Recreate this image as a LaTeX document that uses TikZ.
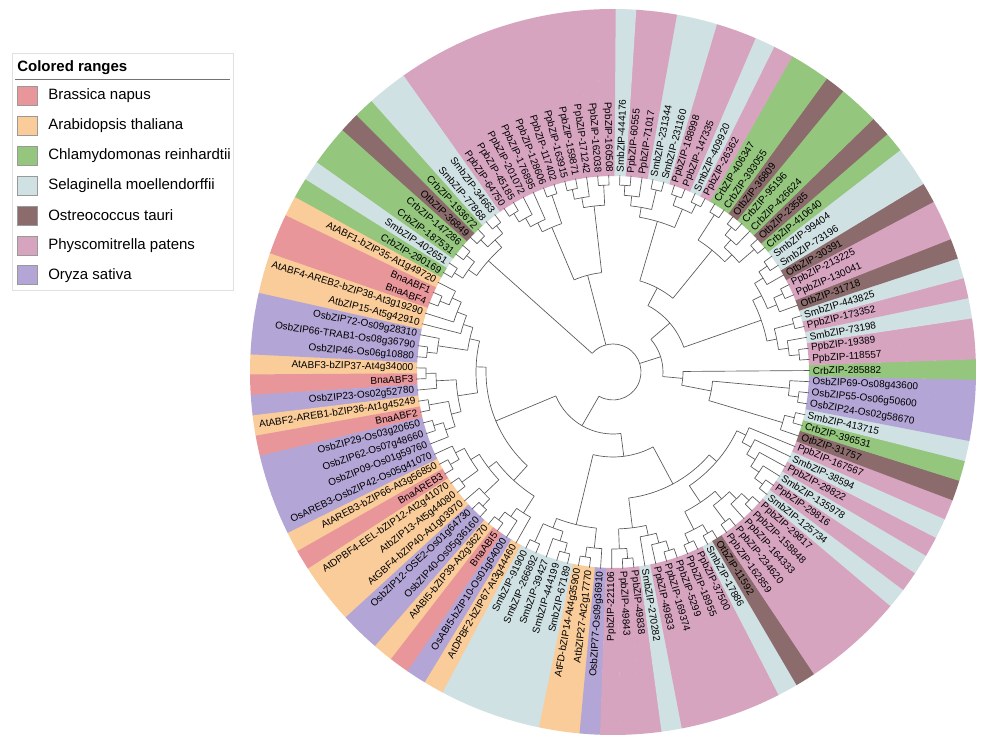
\documentclass[tikz,border=0pt]{standalone}
\usepackage{fontspec}
\setmainfont{Liberation Sans}
\definecolor{cbn}{RGB}{232,150,153}
\definecolor{cat}{RGB}{249,204,153}
\definecolor{ccr}{RGB}{148,198,126}
\definecolor{csm}{RGB}{208,225,228}
\definecolor{cot}{RGB}{139,107,107}
\definecolor{cpp}{RGB}{215,164,192}
\definecolor{cos}{RGB}{179,166,214}
\def\cladestep{10}
\def\offs{178.8}
\def\Rin{196}
\def\Rout{363}
\makeatletter
\newcommand\nset[3]{\expandafter\xdef\csname tn@#1@#2\endcsname{#3}}
\newcommand\nget[2]{\csname tn@#1@#2\endcsname}
\newcommand\clade[3][]{%
  \gdef\cl@first{}%
  \gdef\cl@h{0}%
  \foreach \ch in {#3}{%
    \ifx\cl@first\@empty\xdef\cl@first{\ch}\fi
    \xdef\cl@last{\ch}%
    \edef\cl@ch{\nget{h}{\ch}}%
    \pgfmathsetmacro\cl@t{max(\cl@h,\cl@ch)}%
    \xdef\cl@h{\cl@t}%
  }%
  \pgfmathsetmacro\cl@hh{\cl@h+1}%
  \nset{h}{#2}{\cl@hh}%
  \def\cl@arg{#1}%
  \ifx\cl@arg\@empty
    \pgfmathsetmacro\cl@r{max(197-\cladestep*\cl@hh,40)}%
  \else
    \def\cl@r{#1}%
  \fi
  \nset{r}{#2}{\cl@r}%
  \edef\cl@aA{\nget{a}{\cl@first}}%
  \edef\cl@aB{\nget{a}{\cl@last}}%
  \pgfmathsetmacro\cl@aM{(\cl@aA+\cl@aB)/2}%
  \nset{a}{#2}{\cl@aM}%
  \draw[branch] (\cl@aA:\cl@r) arc[start angle=\cl@aA, end angle=\cl@aB, radius=\cl@r];
  \foreach \ch in {#3}{%
    \edef\cl@ca{\nget{a}{\ch}}%
    \edef\cl@cr{\nget{r}{\ch}}%
    \draw[branch] (\cl@ca:\cl@r) -- (\cl@ca:\cl@cr);
  }%
}
\makeatother
\begin{document}
\begin{tikzpicture}[x=0.75pt,y=0.75pt,
  branch/.style={draw=black!65, line width=0.5pt},
  lbl/.style={font=\fontsize{7.5}{8}\selectfont, inner sep=0pt, text=black},
  legtxt/.style={font=\fontsize{11.25}{13}\selectfont, anchor=west, inner sep=0pt},
  legbox/.style={draw=black!40, line width=0.6pt},
]
\useasboundingbox (0,0) rectangle (1000,748);
\fill[white] (0,0) rectangle (1000,748);
\begin{scope}[shift={(613,376)}]
% leaf angles
\foreach \i in {1,...,111}{%
  \pgfmathsetmacro\la{\i<104 ? \offs+(\i-1)*3.2432432 : \offs+(\i-112)*3.2432432}%
  \nset{a}{L\i}{\la}\nset{r}{L\i}{197}\nset{h}{L\i}{0}%
}
% colored ranges and labels
\foreach \i/\cc/\t in {
1/at/AtABF3-bZIP37-At4g34000,
2/bn/BnaABF3,
3/os/OsbZIP23-Os02g52780,
4/at/AtABF2-AREB1-bZIP36-At1g45249,
5/bn/BnaABF2,
6/os/OsbZIP29-Os03g20650,
7/os/OsbZIP62-Os07g48660,
8/os/OsbZIP09-Os01g59760,
9/os/OsAREB3-OsbZIP42-Os05g41070,
10/at/AtAREB3-bZIP66-At3g56850,
11/bn/BnaAREB3,
12/at/AtDPBF4-EEL-bZIP12-At2g41070,
13/at/AtbZIP13-At5g44080,
14/at/AtGBF4-bZIP40-At1g03970,
15/os/OsbZIP12-OSE2-Os01g64730,
16/os/OsbZIP40-Os05g36160,
17/at/AtABI5-bZIP39-At2g36270,
18/bn/BnaABI5,
19/os/OsABI5-bZIP10-Os01g64000,
20/at/AtDPBF2-bZIP67-At3g44460,
21/sm/SmbZIP-91900,
22/sm/SmbZIP-266892,
23/sm/SmbZIP-39427,
24/sm/SmbZIP-444199,
25/sm/SmbZIP-67189,
26/at/AtFD-bZIP14-At4g35900,
27/at/AtbZIP27-At2g17770,
28/os/OsbZIP77-Os09g36910,
29/pp/PpbZIP-221106,
30/pp/PpbZIP-49843,
31/pp/PpbZIP-49838,
32/sm/SmbZIP-270282,
33/pp/PpbZIP-49833,
34/pp/PpbZIP-169374,
35/pp/PpbZIP-5299,
36/pp/PpbZIP-18955,
37/pp/PpbZIP-37500,
38/sm/SmbZIP-17886,
39/ot/OtbZIP-11592,
40/pp/PpbZIP-162859,
41/pp/PpbZIP-234620,
42/pp/PpbZIP-164333,
43/pp/PpbZIP-158848,
44/pp/PpbZIP-29817,
45/sm/SmbZIP-125734,
46/pp/PpbZIP-29816,
47/sm/SmbZIP-135978,
48/pp/PpbZIP-29822,
49/sm/SmbZIP-38594,
50/pp/PpbZIP-167567,
51/ot/OtbZIP-31757,
52/cr/CrbZIP-396531,
53/sm/SmbZIP-413715,
54/os/OsbZIP24-Os02g58670,
55/os/OsbZIP55-Os06g50600,
56/os/OsbZIP69-Os08g43600,
57/cr/CrbZIP-285882,
58/pp/PpbZIP-118557,
59/pp/PpbZIP-19389,
60/sm/SmbZIP-73198,
61/pp/PpbZIP-173352,
62/sm/SmbZIP-443825,
63/ot/OtbZIP-31718,
64/pp/PpbZIP-130041,
65/pp/PpbZIP-213225,
66/ot/OtbZIP-30391,
67/sm/SmbZIP-73196,
68/sm/SmbZIP-99404,
69/cr/CrbZIP-410640,
70/ot/OtbZIP-23585,
71/cr/CrbZIP-426624,
72/cr/CrbZIP-95196,
73/ot/OtbZIP-36809,
74/cr/CrbZIP-393055,
75/cr/CrbZIP-406347,
76/pp/PpbZIP-26362,
77/sm/SmbZIP-409920,
78/pp/PpbZIP-147335,
79/pp/PpbZIP-188998,
80/sm/SmbZIP-231160,
81/sm/SmbZIP-231344,
82/pp/PpbZIP-71017,
83/pp/PpbZIP-60555,
84/sm/SmbZIP-444176,
85/pp/PpbZIP-160508,
86/pp/PpbZIP-162038,
87/pp/PpbZIP-171242,
88/pp/PpbZIP-159871,
89/pp/PpbZIP-163915,
90/pp/PpbZIP-117402,
91/pp/PpbZIP-128606,
92/pp/PpbZIP-176895,
93/pp/PpbZIP-201072,
94/pp/PpbZIP-45185,
95/pp/PpbZIP-64750,
96/sm/SmbZIP-34663,
97/sm/SmbZIP-77868,
98/cr/CrbZIP-193672,
99/ot/OtbZIP-36849,
100/cr/CrbZIP-147286,
101/cr/CrbZIP-187531,
102/sm/SmbZIP-402651,
103/cr/CrbZIP-290169,
104/at/AtABF1-bZIP35-At1g49720,
105/bn/BnaABF1,
106/bn/BnaABF4,
107/at/AtABF4-AREB2-bZIP38-At3g19290,
108/at/AtbZIP15-At5g42910,
109/os/OsbZIP72-Os09g28310,
110/os/OsbZIP66-TRAB1-Os08g36790,
111/os/OsbZIP46-Os06g10880}{%
  \edef\la{\nget{a}{L\i}}%
  \pgfmathsetmacro\wa{\la-1.66}%
  \pgfmathsetmacro\wb{\la+1.66}%
  \edef\wc{c\cc}%
  \fill[fill=\wc] (\wa:\Rin) arc[start angle=\wa,end angle=\wb,radius=\Rin] -- (\wb:\Rout) arc[start angle=\wb,end angle=\wa,radius=\Rout] -- cycle;
  \pgfmathtruncatemacro\side{(\la>270 && \la<450) ? 1 : 0}%
  \ifnum\side=1
    \node[lbl,anchor=west,rotate=\la] (t\i) at (\la:199.5) {\t};
  \else
    \pgfmathsetmacro\lb{\la-180}%
    \node[lbl,anchor=east,rotate=\lb] (t\i) at (\la:199.5) {\t};
  \fi
}
% ---- tree ----
% ABF group
\clade{a1}{L105,L106}
\clade{a2}{L104,a1}
\clade{a3}{a2,L107}
\clade{a4}{a3,L108}
\clade{a5}{L110,L111}
\clade{a6}{L109,a5}
\clade{a7}{a4,a6}
\clade{a8}{L1,L2}
\clade{a9}{a8,L3}
\clade{a10}{L4,L5}
\clade{a11}{L6,L7}
\clade{a12}{a11,L8}
\clade{a13}{a10,a12}
\clade{a14}{a9,a13}
\clade{a15}{a7,a14}
\clade{a16}{L10,L11}
\clade{a17}{L9,a16}
\clade{a18}{L12,L13}
\clade{a19}{a17,a18}
\clade{a20}{L15,L16}
\clade{a21}{L14,a20}
\clade{a22}{a19,a21}
\clade{a23}{L17,L18}
\clade{a24}{a23,L19}
\clade{a25}{a24,L20}
\clade{a26}{a22,a25}
\clade{ABF}{a15,a26}
% bottom
\clade{b1}{L21,L22}
\clade{b2}{L24,L25}
\clade{b3}{L23,b2}
\clade{b4}{b1,b3}
\clade{b5}{L26,L27}
\clade{b6}{b5,L28}
\clade{BOT}{b4,b6}
% moss group
\clade{p1}{L30,L31}
\clade{p2}{L29,p1}
\clade{p3}{L34,L35}
\clade{p4}{L33,p3}
\clade{p5}{L32,p4}
\clade{p6}{p2,p5}
\clade{p7}{L36,L37}
\clade{p8}{L38,L39}
\clade{p9}{p7,p8}
\clade{p10}{L40,L41}
\clade{p11}{L43,L44}
\clade{p12}{L42,p11}
\clade{p13}{p10,p12}
\clade{p14}{p9,p13}
\clade{p15}{L45,L46}
\clade{p16}{p15,L47}
\clade{p17}{p16,L48}
\clade{p18}{p17,L49}
\clade{p19}{p18,L50}
\clade{p20}{p14,p19}
\clade{PP}{p6,p20}
% right
\clade{r1}{L52,L53}
\clade{r2}{L51,r1}
\clade{r3}{L54,L55}
\clade{r4}{r3,L56}
\clade[100]{r5}{r2,r4}
\clade[70]{r6}{r5,L57}
\clade{s1}{L58,L59}
\clade{s2}{s1,L60}
\clade{s3}{L61,L62}
\clade{s4}{s2,s3}
\clade{s5}{L64,L65}
\clade{s6}{L63,s5}
\clade{s7}{L67,L68}
\clade{s8}{L66,s7}
\clade{s9}{s6,s8}
\clade{S}{s4,s9}
\clade{g1}{L69,L70}
\clade{g2}{L72,L73}
\clade{g3}{L71,g2}
\clade{g4}{L74,L75}
\clade{g5}{g1,g3}
\clade{G}{g5,g4}
\clade{m1}{L76,L77}
\clade{m2}{L78,L79}
\clade{m3}{m1,m2}
\clade{m4}{L80,L81}
\clade{m5}{L83,L84}
\clade{m6}{L82,m5}
\clade{m7}{m4,m6}
\clade{M}{m3,m7}
% top
\clade{t1}{L85,L86}
\clade{t2}{L88,L89}
\clade{t3}{L87,t2}
\clade{t4}{t1,t3}
\clade{t5}{L90,L91}
\clade{t6}{L94,L95}
\clade{t7}{L93,t6}
\clade{t8}{L92,t7}
\clade{t9}{t5,t8}
\clade[100]{T}{t4,t9}
\clade{u1}{L96,L97}
\clade{u2}{L98,L99}
\clade{u3}{u1,u2}
\clade{u4}{L100,L101}
\clade{u5}{L102,L103}
\clade{u6}{u4,u5}
\clade{U}{u3,u6}
% deep
\clade[85]{A1}{BOT,PP}
\clade[62]{A}{ABF,A1}
\clade[95]{B1}{G,M}
\clade[75]{B2}{S,B1}
\clade[50]{B}{r6,B2}
\clade[28]{ROOT}{A,B,T,U}
\end{scope}
% ---- legend ----
\draw[draw=black!12, fill=white, line width=0.6pt] (12,695) rectangle (233,458);
\node[anchor=base west, inner sep=0pt, font=\bfseries\fontsize{11.25}{13}\selectfont] (ltitle) at (17,676) {Colored ranges};
\draw[black!55, line width=0.7pt] (15,669) -- (230,669);
\foreach \k/\cc/\t in {0/bn/Brassica napus,1/at/Arabidopsis thaliana,2/cr/Chlamydomonas reinhardtii,3/sm/Selaginella moellendorffii,4/ot/Ostreococcus tauri,5/pp/Physcomitrella patens,6/os/Oryza sativa}{%
  \pgfmathsetmacro\yc{748-96-29.9*\k}%
  \edef\wc{c\cc}%
  \draw[legbox, fill=\wc] (17,\yc-9.5) rectangle (37,\yc+9.5);
  \node[legtxt] (lg\k) at (48,\yc) {\t};
}
\end{tikzpicture}
\end{document}
